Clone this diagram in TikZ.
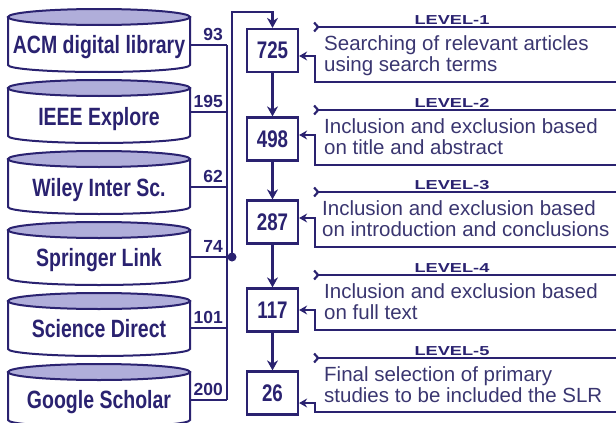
\documentclass[tikz,border=0pt]{standalone}
\usepackage{fontspec}
\setmainfont{Liberation Sans}
\newfontfamily\condfont[FakeStretch=0.78]{Liberation Sans}
\newfontfamily\widefont[FakeStretch=1.4]{Liberation Sans}
\usetikzlibrary{arrows.meta}
\definecolor{navy}{RGB}{42,34,112}
\definecolor{lilac}{RGB}{176,174,218}
\definecolor{slate}{RGB}{58,54,112}

\begin{document}
\begin{tikzpicture}[x=1pt,y=-1pt,
  wire/.style={draw=navy,line width=2.2pt},
  feed/.style={wire,-{Stealth[length=8pt,width=9pt]}},
  drop/.style={wire,-{Stealth[length=10pt,width=11pt]}},
  head/.style={wire,{Straight Barb[reversed,length=4pt,width=9pt]}-},
  dbbody/.style={draw=navy,line width=2pt,fill=white},
  dbtop/.style={draw=navy,line width=2pt,fill=lilac},
  dbname/.style={navy,anchor=base,inner sep=0pt,font=\fontsize{25}{25}\condfont\bfseries},
  count/.style={navy,anchor=south east,inner sep=0pt,font=\fontsize{17.5}{17.5}\selectfont\bfseries},
  stage/.style={draw=navy,line width=2.2pt,fill=white,minimum width=51pt,minimum height=43pt,inner sep=0pt,text=navy,font=\fontsize{24}{24}\condfont\bfseries},
  level/.style={navy,anchor=base,inner sep=0pt,font=\fontsize{13}{13}\widefont\bfseries},
  task/.style={slate,anchor=north west,inner sep=0pt,align=left,font=\fontsize{20.5}{21}\selectfont}]

\useasboundingbox (0,0) rectangle (616,423);

\draw[dbbody] (8,17) -- (8,65) arc (180:0:91 and 7) -- (190,17) -- cycle;
\draw[dbtop] (99,17) ellipse (91 and 8);
\draw[dbbody] (8,88) -- (8,136) arc (180:0:91 and 7) -- (190,88) -- cycle;
\draw[dbtop] (99,88) ellipse (91 and 8);
\draw[dbbody] (8,159) -- (8,207) arc (180:0:91 and 7) -- (190,159) -- cycle;
\draw[dbtop] (99,159) ellipse (91 and 8);
\draw[dbbody] (8,230) -- (8,278) arc (180:0:91 and 7) -- (190,230) -- cycle;
\draw[dbtop] (99,230) ellipse (91 and 8);
\draw[dbbody] (8,301) -- (8,349) arc (180:0:91 and 7) -- (190,301) -- cycle;
\draw[dbtop] (99,301) ellipse (91 and 8);
\draw[dbbody] (8,372) -- (8,420) arc (180:0:91 and 7) -- (190,372) -- cycle;
\draw[dbtop] (99,372) ellipse (91 and 8);

\node[dbname] (acm) at (99,53) {ACM digital library};
\node[dbname] (ieee) at (99,125) {IEEE Explore};
\node[dbname] (wiley) at (99,196) {Wiley Inter Sc.};
\node[dbname] (springer) at (99,266) {Springer Link};
\node[dbname] (science) at (99,337) {Science Direct};
\node[dbname] (google) at (99,408) {Google Scholar};

\coordinate (c1) at (190,45);
\coordinate (c2) at (190,112);
\coordinate (c3) at (190,187);
\coordinate (c4) at (190,257);
\coordinate (c5) at (190,328);
\coordinate (c6) at (190,400);
\coordinate (bus) at (227,0);

\draw[wire] (c1) -- (c1 -| bus);
\draw[wire] (c2) -- (c2 -| bus);
\draw[wire] (c3) -- (c3 -| bus);
\draw[wire] (c5) -- (c5 -| bus);
\draw[wire] (c6) -- (c6 -| bus);
\draw[wire] (c1 -| bus) -- (c6 -| bus);

\node[count] (k93) at (223,41) {93};
\node[count] (k195) at (223,108) {195};
\node[count] (k62) at (223,183) {62};
\node[count] (k74) at (223,253) {74};
\node[count] (k101) at (223,324) {101};
\node[count] (k200) at (223,396) {200};

\node[stage] (n725) at (272.5,50.5) {725};
\node[stage] (n498) at (272.5,139) {498};
\node[stage] (n287) at (272.5,222) {287};
\node[stage] (n117) at (272.5,310) {117};
\node[stage] (n26) at (272.5,393) {26};

\node[circle,fill=navy,inner sep=0pt,minimum size=9pt] (jn) at (232,257) {};
\coordinate (top) at (272.5,12);
\draw[wire] (c4) -- (jn.center);
\draw[drop] (jn.center) |- (top) -- (n725);

\draw[drop] (n725) -- (n498);
\draw[drop] (n498) -- (n287);
\draw[drop] (n287) -- (n117);
\draw[drop] (n117) -- (n26);

\coordinate (h1) at (313,27);
\coordinate (h2) at (313,110);
\coordinate (h3) at (313,192);
\coordinate (h4) at (313,275);
\coordinate (h5) at (313,358);
\coordinate (e1) at (616,82);
\coordinate (e2) at (616,165);
\coordinate (e3) at (616,247);
\coordinate (e4) at (616,330);
\coordinate (e5) at (616,412);
\coordinate (a1) at (315,56);
\coordinate (a2) at (315,135);
\coordinate (a3) at (315,218);
\coordinate (a4) at (315,310);
\coordinate (a5) at (315,403);

\draw[head] (h1) -- (h1 -| e1);
\draw[head] (h2) -- (h2 -| e2);
\draw[head] (h3) -- (h3 -| e3);
\draw[head] (h4) -- (h4 -| e4);
\draw[head] (h5) -- (h5 -| e5);

\draw[feed] (e1) -| (a1) -- (a1 -| n725.east);
\draw[feed] (e2) -| (a2) -- (a2 -| n498.east);
\draw[feed] (e3) -| (a3) -- (a3 -| n287.east);
\draw[feed] (e4) -| (a4) -- (a4 -| n117.east);
\draw[feed] (e5) -| (a5) -- (a5 -| n26.east);

\node[level] (lv1) at (452,24) {LEVEL-1};
\node[level] (lv2) at (452,107) {LEVEL-2};
\node[level] (lv3) at (452,189) {LEVEL-3};
\node[level] (lv4) at (452,272) {LEVEL-4};
\node[level] (lv5) at (452,355) {LEVEL-5};

\node[task] (t1) at (324,35) {Searching of relevant articles\\using search terms};
\node[task] (t2) at (324,118) {Inclusion and exclusion based\\on title and abstract};
\node[task] (t3) at (322,200) {Inclusion and exclusion based\\on introduction and conclusions};
\node[task] (t4) at (324,283) {Inclusion and exclusion based\\on full text};
\node[task] (t5) at (324,366) {Final selection of primary\\studies to be included the SLR};

\end{tikzpicture}
\end{document}
